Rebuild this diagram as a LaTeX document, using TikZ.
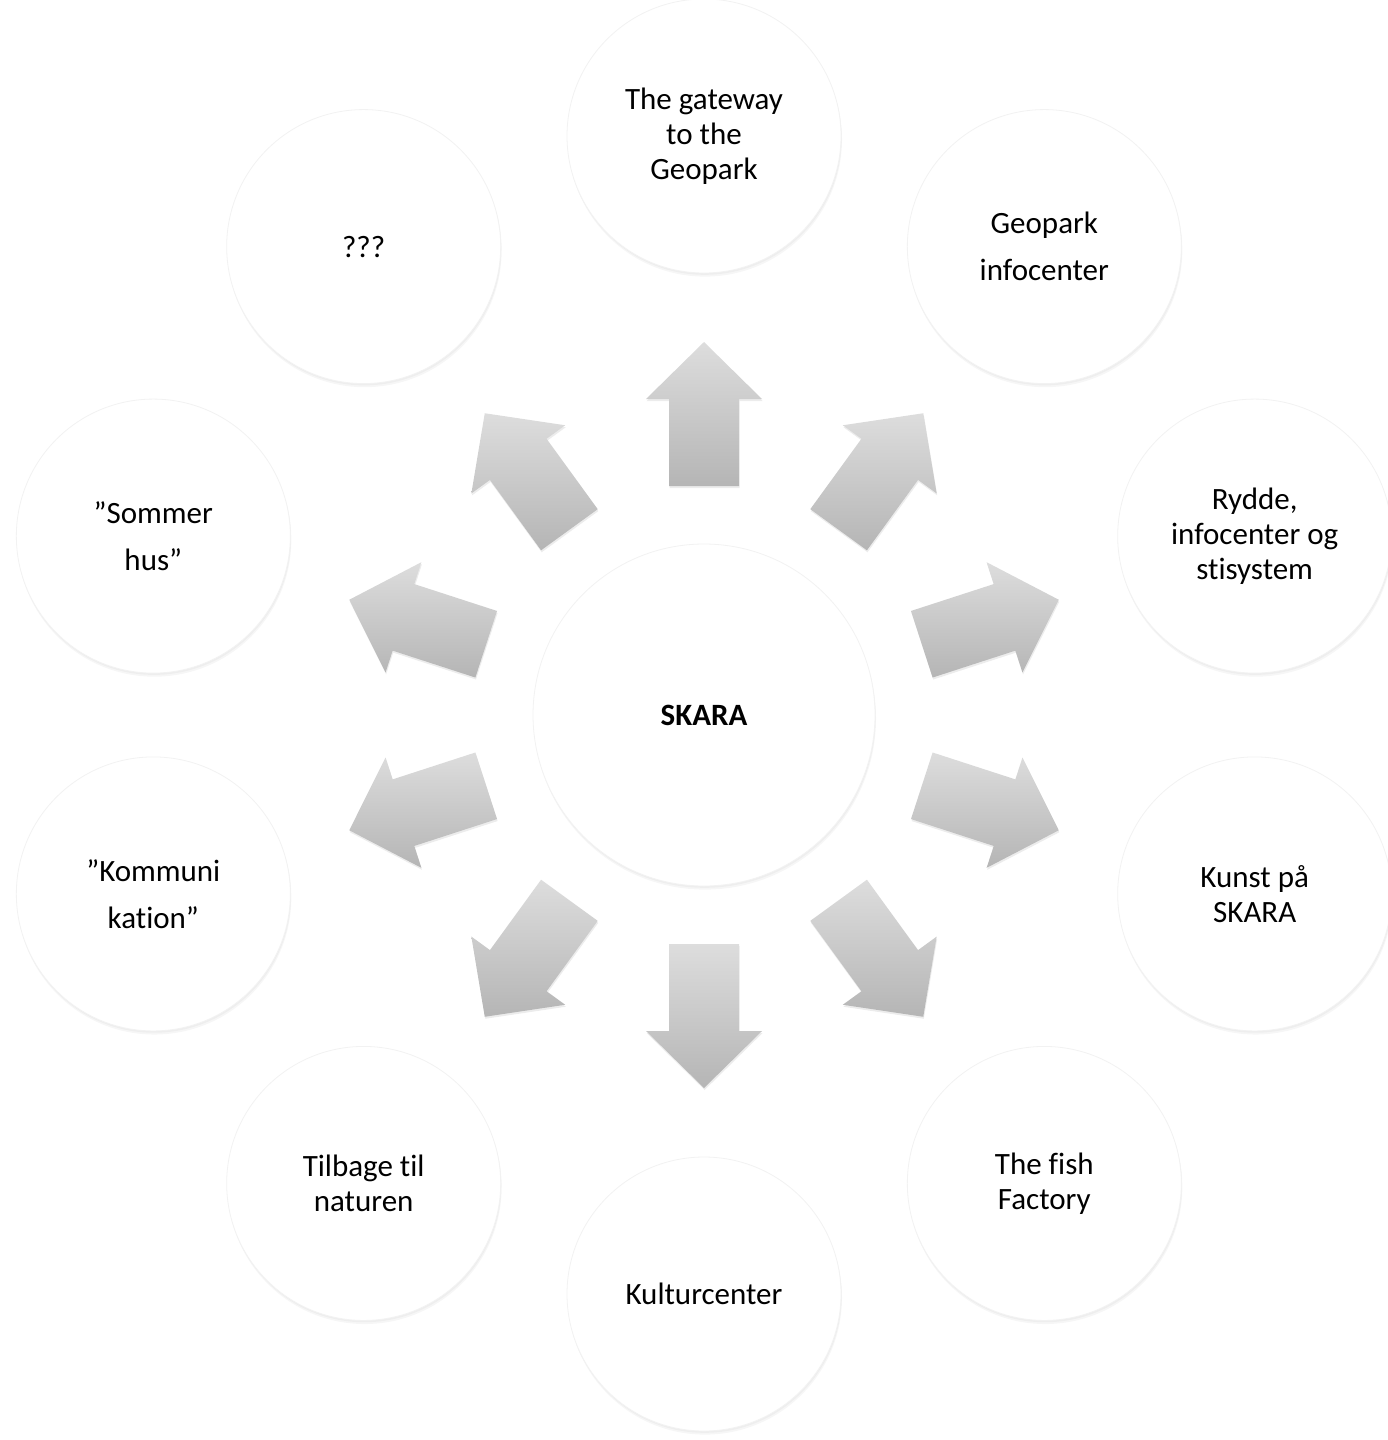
\documentclass[tikz,border=0pt]{standalone}
\usepackage{fontspec}
\setmainfont{Carlito}[Ligatures=NoCommon]
\usetikzlibrary{calc,shadows}
\begin{document}
\begin{tikzpicture}[x=0.5pt,y=-0.5pt,
  bubble/.style={circle, fill=white, draw=black!5, line width=0.4pt, minimum size=137pt, inner sep=0pt,
    align=center, font=\fontsize{15.5pt}{17.5pt}\selectfont,
    drop shadow={shadow xshift=0.3pt, shadow yshift=-0.9pt, opacity=0.07},
    drop shadow={shadow xshift=0.5pt, shadow yshift=-1.8pt, opacity=0.07}},
  wide/.style={font=\fontsize{15.5pt}{23.5pt}\selectfont},
  hub/.style={bubble, minimum size=171pt, font=\fontsize{15.5pt}{17.5pt}\selectfont\bfseries},
  blockarrow/.style={top color=arrowtop, bottom color=arrowbot, draw=none,
    drop shadow={shadow xshift=0.3pt, shadow yshift=-1pt, opacity=0.15}}
]
\definecolor{arrowtop}{HTML}{DDDDDD}
\definecolor{arrowbot}{HTML}{B5B5B5}
\useasboundingbox (0,0) rectangle (1387,1440);

\coordinate (o) at (704,715);

% arrows
\foreach \a in {-90,-54,-18,18,54,90,126,162,198,234}{
  \path[blockarrow]
    ($(o)+(\a:229)+(\a+90:35)$) -- ($(o)+(\a:316)+(\a+90:35)$) --
    ($(o)+(\a:316)+(\a+90:58)$) -- ($(o)+(\a:373)$) --
    ($(o)+(\a:316)+(\a-90:58)$) -- ($(o)+(\a:316)+(\a-90:35)$) --
    ($(o)+(\a:229)+(\a-90:35)$) -- cycle;
}

\node[hub] (c) at (o) {SKARA};

\node[bubble] (n1) at ($(o)+(-90:579)$) {The gateway\\to the\\Geopark};
\node[bubble,wide] (n2) at ($(o)+(-54:579)$) {Geopark\\infocenter};
\node[bubble] (n3) at ($(o)+(-18:579)$) {Rydde,\\infocenter og\\stisystem};
\node[bubble] (n4) at ($(o)+(18:579)$) {Kunst på\\SKARA};
\node[bubble] (n5) at ($(o)+(54:579)$) {The fish\\Factory};
\node[bubble] (n6) at ($(o)+(90:579)$) {Kulturcenter};
\node[bubble] (n7) at ($(o)+(126:579)$) {Tilbage til\\naturen};
\node[bubble,wide] (n8) at ($(o)+(162:579)$) {”Kommuni\\kation”};
\node[bubble,wide] (n9) at ($(o)+(198:579)$) {”Sommer\\hus”};
\node[bubble] (n10) at ($(o)+(234:579)$) {???};
\end{tikzpicture}
\end{document}
